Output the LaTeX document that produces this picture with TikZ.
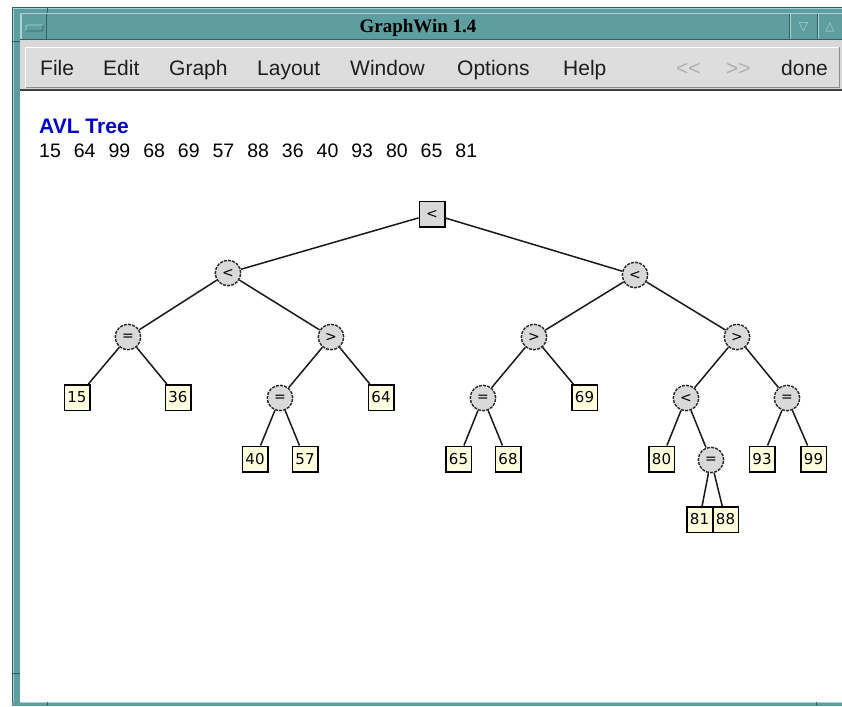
\documentclass[tikz,border=0pt]{standalone}
\usepackage{fontspec}
\setmainfont{Liberation Sans}
\newfontfamily\titlefont{Liberation Serif}
\newfontfamily\labelfont{DejaVu Sans}
\definecolor{frameteal}{RGB}{95,158,160}
\definecolor{tealhi}{RGB}{165,212,212}
\definecolor{tealdk}{RGB}{48,96,98}
\definecolor{menugray}{RGB}{217,217,217}
\definecolor{nodegray}{RGB}{217,217,217}
\definecolor{leafyellow}{RGB}{255,255,224}
\definecolor{avlblue}{RGB}{0,0,205}
\definecolor{menutext}{RGB}{30,30,30}
\definecolor{menudim}{RGB}{175,175,175}
\tikzset{
  leafbox/.style={draw=black, line width=1.5pt, fill=leafyellow, minimum width=25.5pt,
    minimum height=25.5pt, inner sep=0pt, font=\labelfont\fontsize{15}{15}\selectfont},
  opnode/.style={circle, draw=black!85, dash pattern=on 3pt off 1.2pt, line width=1.4pt,
    fill=nodegray, minimum size=25.5pt, inner sep=0pt, font=\labelfont\fontsize{14}{14}\selectfont},
  rootbox/.style={draw=black, line width=1.5pt, fill=nodegray, minimum size=25.5pt,
    inner sep=0pt, font=\labelfont\fontsize{14}{14}\selectfont},
  treeedge/.style={line width=1.5pt, black!90},
  menuitem/.style={anchor=base west, inner sep=0pt, text=menutext,
    font=\fontsize{21}{21}\selectfont},
}
\begin{document}
\begin{tikzpicture}[x=1pt, y=-1pt]
\useasboundingbox (0,0) rectangle (842,706);
\fill[white] (0,0) rectangle (842,706);

% window frame
\fill[frameteal] (12,7) rectangle (842,706);
\draw[tealdk, line width=1pt] (12.5,706) -- (12.5,7.5) -- (842,7.5);
\draw[tealhi, line width=0.8pt] (13.5,706) -- (13.5,8.5) -- (842,8.5);
\draw[tealdk, line width=1pt] (47,7) -- (47,13);
\draw[tealdk, line width=1pt] (12,42) -- (20,42);
\draw[tealdk, line width=1pt] (12,673) -- (20,673);

% title bar
\fill[frameteal] (20,13) rectangle (842,40);
\draw[tealhi, line width=1pt] (20,40) -- (20,13.5) -- (842,13.5);
\draw[tealdk, line width=1pt] (20,39.5) -- (842,39.5);
% window menu button
\draw[tealhi, line width=1pt] (21,39) -- (21,14) -- (46,14);
\draw[tealdk, line width=1pt] (46.5,14) -- (46.5,39.5);
\draw[tealhi, line width=0.9pt, rounded corners=1pt] (26,31) -- (26,25) -- (43,25);
\draw[tealdk, line width=0.9pt, rounded corners=1pt] (43,25) -- (43,31) -- (26,31);
% minimise / maximise buttons
\draw[tealdk, line width=1pt] (789.5,14) -- (789.5,40);
\draw[tealhi, line width=1pt] (790.5,14) -- (790.5,39);
\draw[tealdk, line width=1pt] (817,14) -- (817,40);
\draw[tealhi, line width=1pt] (818,14) -- (818,39);
\node[inner sep=0pt, text=tealhi, font=\labelfont\fontsize{12}{12}\selectfont] (minbtn) at (803.5,27) {▽};
\node[inner sep=0pt, text=tealhi, font=\labelfont\fontsize{12}{12}\selectfont] (maxbtn) at (830,27) {△};
\node[anchor=base, inner sep=0pt, font=\titlefont\bfseries\fontsize{19}{19}\selectfont] (title) at (418,33) {GraphWin 1.4};

% menu bar
\fill[menugray] (20,40) rectangle (842,91);
\fill[menugray!90!white] (25,47) rectangle (840,88);
\draw[white, line width=1.2pt] (25.5,88) -- (25.5,47.5) -- (840,47.5);
\draw[black!45, line width=1.2pt] (25.5,87.5) -- (839.5,87.5) -- (839.5,47.5);
\draw[black!75, line width=2pt] (20,90) -- (842,90);

\node[menuitem] (mfile) at (40,76) {File};
\node[menuitem] (medit) at (103,76) {Edit};
\node[menuitem] (mgraph) at (169,76) {Graph};
\node[menuitem] (mlayout) at (257,76) {Layout};
\node[menuitem] (mwindow) at (350,76) {Window};
\node[menuitem] (moptions) at (457,76) {Options};
\node[menuitem] (mhelp) at (563,76) {Help};
\node[menuitem, text=menudim] (mback) at (676,76) {<{}<};
\node[menuitem, text=menudim] (mfwd) at (726,76) {>{}>};
\node[menuitem] (mdone) at (781,76) {done};

% drawing area
\fill[white] (20,91) rectangle (842,702);
\fill[frameteal] (12,702) rectangle (842,706);
\draw[tealhi, line width=1pt] (20,702.5) -- (842,702.5);
\draw[tealdk, line width=1pt] (47,702) -- (47,706);
\draw[tealdk, line width=1pt] (816,702) -- (816,706);

% header text
\node[anchor=base west, inner sep=0pt, text=avlblue, font=\bfseries\fontsize{21}{21}\selectfont] (hdr) at (39,133) {AVL Tree};
\node[anchor=base west, inner sep=0pt, font=\fontsize{19.5}{19.5}\selectfont] (keys) at (39,157)
  {15\hspace{13pt}64\hspace{13pt}99\hspace{13pt}68\hspace{13pt}69\hspace{13pt}57\hspace{13pt}88\hspace{13pt}36\hspace{13pt}40\hspace{13pt}93\hspace{13pt}80\hspace{13pt}65\hspace{13pt}81};

% tree nodes
\node[rootbox] (root) at (432,214) {<};
\node[opnode] (a) at (228,273) {<};
\node[opnode] (b) at (635,275) {<};
\node[opnode] (a1) at (128,337) {=};
\node[opnode] (a2) at (331,337) {>};
\node[opnode] (b1) at (534,337) {>};
\node[opnode] (b2) at (737,337) {>};
\node[leafbox] (k15) at (77,397.5) {15};
\node[leafbox] (k36) at (178,397.5) {36};
\node[opnode] (a2a) at (280,398) {=};
\node[leafbox] (k64) at (381,397.5) {64};
\node[opnode] (b1a) at (483,398) {=};
\node[leafbox] (k69) at (584.5,397.5) {69};
\node[opnode] (b2a) at (686,398) {<};
\node[opnode] (b2b) at (787,398) {=};
\node[leafbox] (k40) at (255,459) {40};
\node[leafbox] (k57) at (305,459) {57};
\node[leafbox] (k65) at (458.5,459) {65};
\node[leafbox] (k68) at (508,459) {68};
\node[leafbox] (k80) at (661.5,459) {80};
\node[opnode] (b2c) at (711,460) {=};
\node[leafbox] (k93) at (762,459) {93};
\node[leafbox] (k99) at (813.5,459) {99};
\node[leafbox] (k81) at (699.5,519.5) {81};
\node[leafbox] (k88) at (725.5,519.5) {88};

% tree edges
\draw[treeedge] (root) -- (a);
\draw[treeedge] (root) -- (b);
\draw[treeedge] (a) -- (a1);
\draw[treeedge] (a) -- (a2);
\draw[treeedge] (a1) -- (k15);
\draw[treeedge] (a1) -- (k36);
\draw[treeedge] (a2) -- (a2a);
\draw[treeedge] (a2) -- (k64);
\draw[treeedge] (a2a) -- (k40);
\draw[treeedge] (a2a) -- (k57);
\draw[treeedge] (b) -- (b1);
\draw[treeedge] (b) -- (b2);
\draw[treeedge] (b1) -- (b1a);
\draw[treeedge] (b1) -- (k69);
\draw[treeedge] (b1a) -- (k65);
\draw[treeedge] (b1a) -- (k68);
\draw[treeedge] (b2) -- (b2a);
\draw[treeedge] (b2) -- (b2b);
\draw[treeedge] (b2a) -- (k80);
\draw[treeedge] (b2a) -- (b2c);
\draw[treeedge] (b2c) -- (k81);
\draw[treeedge] (b2c) -- (k88);
\draw[treeedge] (b2b) -- (k93);
\draw[treeedge] (b2b) -- (k99);
\end{tikzpicture}
\end{document}
